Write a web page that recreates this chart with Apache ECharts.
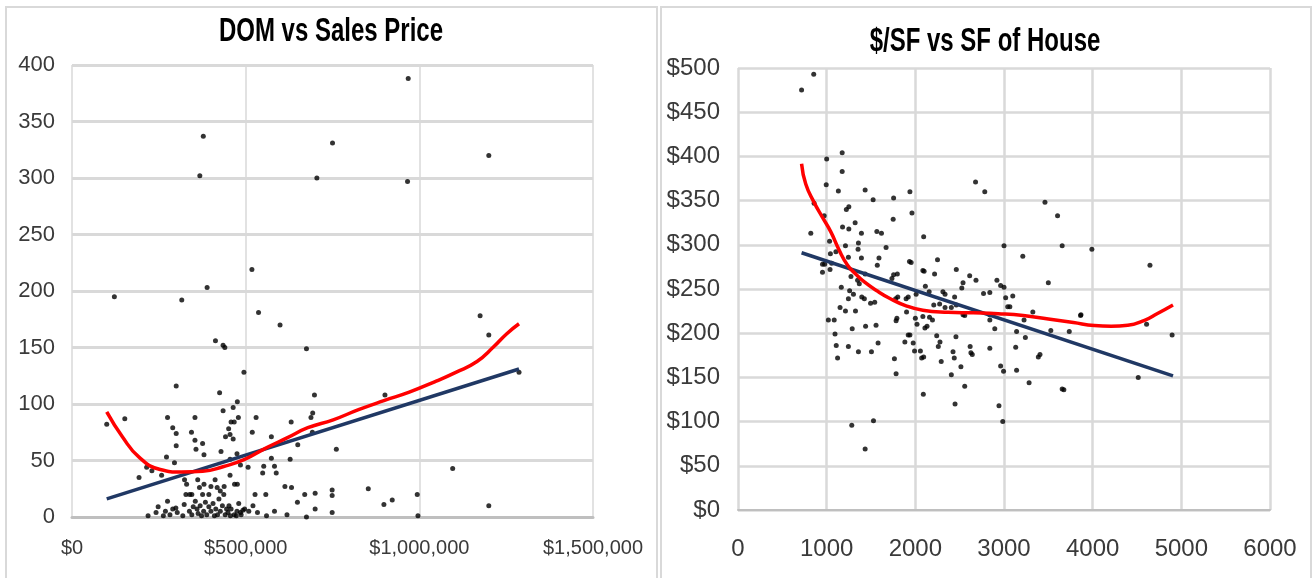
<!DOCTYPE html>
<html>
<head>
<meta charset="utf-8">
<script src="https://cdn.jsdelivr.net/npm/echarts@6/dist/echarts.min.js"></script>
<style>
html,body{margin:0;padding:0;background:#fff;}
#chart{width:1312px;height:578px;}
</style>
</head>
<body>
<div id="chart"></div>
<script>
// ---------- Chart 1: DOM vs Sales Price ----------
const salesPrice = [968000,378000,368000,750000,705000,966000,1200000,518000,389000,122000,316000,537000,599000,1175000,1200000,413000,435000,440000,675000,495000,1287000,300000,425000,901000,698000,476000,464000,435000,693000,100000,152000,275000,354000,530000,479000,688000,631000,458000,467000,290000,300000,344000,451000,455000,574000,442000,464000,354000,519000,692000,376000,650000,300000,761000,357000,429000,380000,475000,574000,272000,628000,295000,455000,215000,230000,258000,193000,1096000,549000,588000,552000,583000,507000,485000,324000,362000,455000,412000,380000,400000,418000,476000,613000,632000,853000,749000,922000,898000,994000,1200000,996000,675000,700000,749000,670000,700000,749000,649000,619000,583000,560000,558000,527000,521000,534000,509000,492000,485000,467000,458000,219000,242000,248000,263000,269000,275000,282000,290000,299000,303000,319000,323000,328000,339000,338000,345000,349000,355000,360000,363000,369000,376000,373000,379000,384000,388000,394000,394000,400000,406000,410000,414000,419000,423000,427000,433000,437000,441000,445000,449000,452000,456000,473000,475000,480000,487000,497000,330000,345000,367000,427000,438000,468000];
const daysOnMarket = [388,337,302,331,300,297,320,219,203,195,192,181,170,178,161,156,152,150,149,128,128,116,110,108,108,102,97,94,92,82,87,88,88,88,88,88,84,84,84,79,74,75,78,73,71,71,69,68,75,75,65,64,63,60,60,58,55,56,52,53,51,48,51,44,41,37,35,43,39,39,45,45,44,46,33,33,37,33,29,27,26,29,27,26,25,24,15,11,20,10,1,0,7,4,20,21,19,13,2,5,1,20,20,10,4,5,6,4,2,7,1,4,9,1,5,14,2,7,8,4,1,11,20,20,5,2,9,14,7,3,10,20,1,5,13,2,20,9,5,12,1,7,2,16,5,10,20,2,7,4,10,1,1,5,12,2,7,29,20,26,23,27,29];
// linear trendline (endpoints)
const domLinearX = [100000, 1287000];
const domLinearY = [16, 131];
// polynomial trendline
const domPolyX = [100000,145000,193000,254000,315000,376000,437000,497000,558000,619000,679000,752000,825000,898000,971000,1044000,1105000,1166000,1214000,1251000,1287000];
const domPolyY = [93,71,53,42,39.8,40.4,44.7,51,61,70,79,86,95,103,110.5,119.6,128,137.6,150.6,162,171];
const domYTicks = [0,50,100,150,200,250,300,350,400];
const priceXTicks = [0,500000,1000000,1500000];

// ---------- Chart 2: $/SF vs SF of House ----------
const houseSF = [717,854,1175,1000,1175,995,1132,1434,1524,1755,1939,1962,1750,2094,2250,2679,2783,3462,3604,3000,3656,3991,3212,4646,3500,3863,3736,4608,4896,4514,3283,3656,3675,2943,2986,2448,2557,2090,1283,1528,1434,821,858,972,953,953,977,1038,1033,1042,1056,1104,1179,1250,1222,1250,1321,1358,1354,1392,1212,1245,1392,1434,1349,1368,1566,1618,1590,1571,1670,1755,1797,1736,1934,1953,2085,2099,2217,2462,2613,2684,2920,2962,3000,2769,2840,2311,2335,2443,2538,2524,2156,2113,2009,1920,1896,1802,1778,1274,1259,1302,1165,1245,1396,1425,1495,1542,1325,1212,1151,1085,1019,1094,1108,1123,1245,1288,1439,1557,1580,1358,1505,1764,1783,1783,1792,1901,1920,1939,1882,1976,1991,2057,2071,2094,2019,2000,2085,2160,2193,2108,2132,2241,2278,2259,2292,2425,2439,2458,2406,2514,2618,2627,2642,2840,2896,2962,2995,3132,3142,3241,3387,3406,3142,3226,3325,3042,3066,3099,3019,2538,2557,2462,2406,2274,2208,2335,2840,2840,3528,3868];
const pricePerSF = [475,493,404,397,383,368,361,362,351,353,360,336,329,309,283,371,360,348,333,299,299,295,287,277,257,220,202,210,198,150,144,137,136,118,100,120,140,131,96,101,69,313,347,333,269,278,278,272,304,290,279,292,320,318,340,343,325,302,295,313,299,286,285,267,260,256,315,313,285,277,297,266,267,262,281,280,271,270,267,272,265,260,260,254,252,245,246,247,244,241,257,251,247,253,244,241,239,241,239,264,248,244,252,239,241,239,234,235,225,225,229,215,215,199,186,172,185,205,208,209,189,179,179,171,154,214,217,224,198,198,190,189,180,180,172,173,210,217,219,218,215,206,208,197,190,185,168,179,172,196,153,162,185,178,176,183,205,163,157,184,158,195,173,176,202,215,224,230,230,242,240,221,220,232,229,233,232,229,221,215,203,221];
const sfLinearX = [717, 4906];
const sfLinearY = [291, 151.7];
const sfPolyX = [717,764,858,953,1047,1142,1236,1330,1425,1566,1708,1896,2085,2368,2651,2934,3217,3500,3783,4019,4208,4396,4585,4726,4906];
const sfPolyY = [391.7,368.7,348,331,314.6,293.7,277,266.7,258,248,239.6,231,226,223.7,223,222,220,216,212,208.7,208,209,214.6,222,232];
const ppsfYTicks = [0,50,100,150,200,250,300,350,400,450,500];
const sfXTicks = [0,1000,2000,3000,4000,5000,6000];

const titles = ['DOM vs Sales Price', '$/SF vs SF of House'];

const zip = (a, b) => a.map((v, i) => [v, b[i]]);
const FONT = "'Liberation Sans', Arial, sans-serif";
const LABEL = '#3a3a3a';
const GRID = '#d9d9d9';

const chart = echarts.init(document.getElementById('chart'), null, {renderer: 'canvas'});
const option = {
  animation: false,
  backgroundColor: '#ffffff',
  textStyle: {fontFamily: FONT},
  graphic: [
    {type: 'rect', shape: {x: 6, y: 7, width: 651, height: 580}, style: {fill: 'none', stroke: '#d9d9d9', lineWidth: 2}, silent: true, z: -10},
    {type: 'rect', shape: {x: 661, y: 7, width: 650, height: 580}, style: {fill: 'none', stroke: '#d9d9d9', lineWidth: 2}, silent: true, z: -10},
    {type: 'text', x: 331, y: 32, scaleY: 1.4, silent: true,
     style: {text: titles[0], fill: '#000', font: 'bold 24px ' + FONT, textAlign: 'center', textVerticalAlign: 'middle', verticalAlign: 'middle'}},
    {type: 'text', x: 985, y: 42, scaleY: 1.4, silent: true,
     style: {text: titles[1], fill: '#000', font: 'bold 24px ' + FONT, textAlign: 'center', textVerticalAlign: 'middle', verticalAlign: 'middle'}}
  ],
  grid: [
    {left: 72, top: 65, width: 521, height: 452},
    {left: 738, top: 68, width: 532, height: 442}
  ],
  xAxis: [
    {type: 'value', gridIndex: 0, min: priceXTicks[0], max: priceXTicks[priceXTicks.length-1], interval: priceXTicks[1]-priceXTicks[0],
     axisLine: {show: true, lineStyle: {color: '#bfbfbf', width: 3}}, axisTick: {show: false},
     axisLabel: {margin: 21, fontSize: 20, color: LABEL, fontFamily: FONT,
       formatter: v => '$' + v.toLocaleString('en-US')},
     splitLine: {show: true, lineStyle: {color: GRID, width: 1.5}}},
    {type: 'value', gridIndex: 1, min: sfXTicks[0], max: sfXTicks[sfXTicks.length-1], interval: sfXTicks[1]-sfXTicks[0],
     axisLine: {show: true, lineStyle: {color: '#bfbfbf', width: 2}}, axisTick: {show: false},
     axisLabel: {margin: 27, fontSize: 24, color: LABEL, fontFamily: FONT, formatter: v => String(v)},
     splitLine: {show: true, lineStyle: {color: GRID, width: 2.5}}}
  ],
  yAxis: [
    {type: 'value', gridIndex: 0, min: domYTicks[0], max: domYTicks[domYTicks.length-1], interval: domYTicks[1]-domYTicks[0],
     axisLine: {show: false}, axisTick: {show: false},
     axisLabel: {margin: 17, fontSize: 22, color: LABEL, fontFamily: FONT},
     splitLine: {show: true, lineStyle: {color: GRID, width: 3}}},
    {type: 'value', gridIndex: 1, min: ppsfYTicks[0], max: ppsfYTicks[ppsfYTicks.length-1], interval: ppsfYTicks[1]-ppsfYTicks[0],
     axisLine: {show: false}, axisTick: {show: false},
     axisLabel: {margin: 18, fontSize: 24, color: LABEL, fontFamily: FONT, formatter: v => '$' + v},
     splitLine: {show: true, lineStyle: {color: GRID, width: 2.5}}}
  ],
  series: [
    {type: 'scatter', xAxisIndex: 0, yAxisIndex: 0, data: zip(salesPrice, daysOnMarket),
     symbol: 'circle', symbolSize: 5, itemStyle: {color: '#000'}, z: 2},
    {type: 'line', xAxisIndex: 0, yAxisIndex: 0, data: zip(domLinearX, domLinearY),
     showSymbol: false, lineStyle: {color: '#203864', width: 3.5}, z: 3},
    {type: 'line', xAxisIndex: 0, yAxisIndex: 0, data: zip(domPolyX, domPolyY), smooth: true,
     showSymbol: false, lineStyle: {color: '#ff0000', width: 3.5}, z: 4},
    {type: 'scatter', xAxisIndex: 1, yAxisIndex: 1, data: zip(houseSF, pricePerSF),
     symbol: 'circle', symbolSize: 5, itemStyle: {color: '#000'}, z: 2},
    {type: 'line', xAxisIndex: 1, yAxisIndex: 1, data: zip(sfLinearX, sfLinearY),
     showSymbol: false, lineStyle: {color: '#203864', width: 3.5}, z: 3},
    {type: 'line', xAxisIndex: 1, yAxisIndex: 1, data: zip(sfPolyX, sfPolyY), smooth: true,
     showSymbol: false, lineStyle: {color: '#ff0000', width: 3.5}, z: 4}
  ]
};
chart.setOption(option);
</script>
</body>
</html>
